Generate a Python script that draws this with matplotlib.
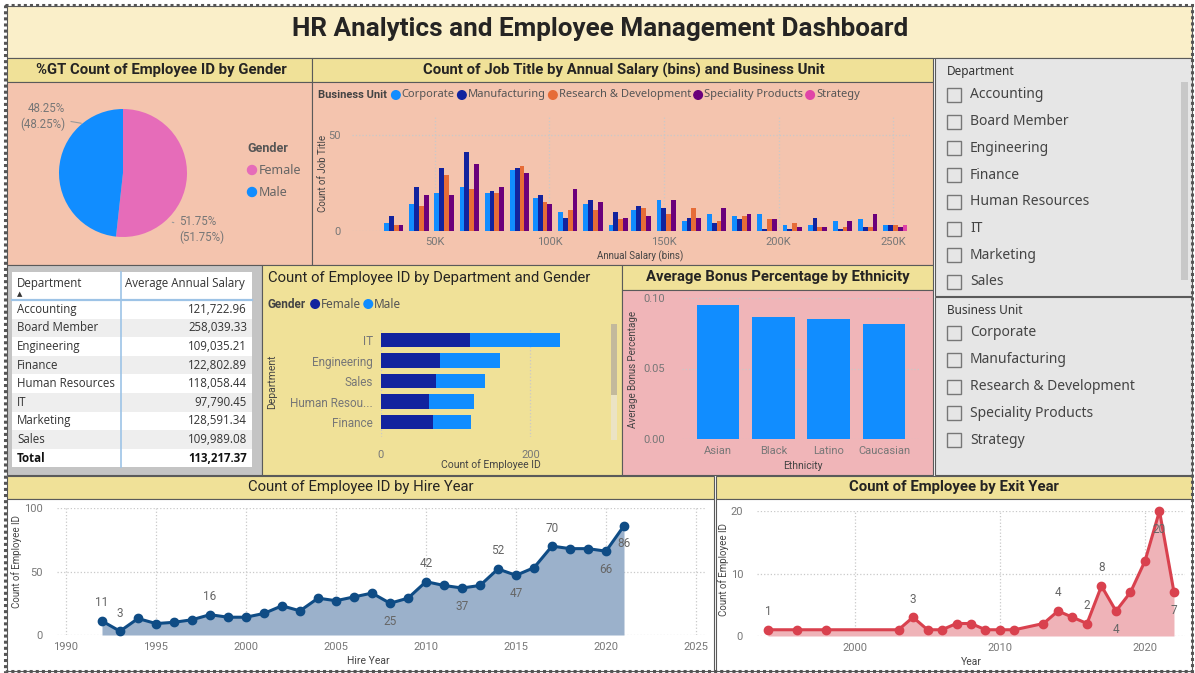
import matplotlib
matplotlib.use('Agg')
import matplotlib.pyplot as plt
from matplotlib.patches import Rectangle, Circle
from matplotlib.ticker import FuncFormatter

W, H = 1195, 673
DIN = ['Roboto', 'DejaVu Sans']
SEG = ['Noto Sans', 'DejaVu Sans']
TBL = ['Open Sans', 'DejaVu Sans']

# ---- data ----
genders = ['Female', 'Male']
gender_pct = [51.75, 48.25]

business_units = ['Corporate', 'Manufacturing', 'Research & Development',
                  'Speciality Products', 'Strategy']
salary_bins_k = [32, 43, 54, 65, 76, 87, 97, 108, 119, 130, 140,
                 151, 162, 173, 184, 195, 206, 217, 228, 239, 250]
corporate = [4, 14, 20, 23, 20, 32, 17, 10, 14, 3, 11, 16, 5, 9, 8, 9, 3, 3, 5, 6, 3]
manufacturing = [8, 23, 33, 41, 21, 33, 19, 7, 16, 10, 13, 12, 7, 4, 6, 1, 1, 7, 1, 2, 3]
research_dev = [3, 13, 29, 22, 20, 34, 15, 11, 11, 6, 12, 9, 12, 5, 8, 6, 4, 2, 2, 2, 3]
speciality = [3, 19, 19, 35, 23, 30, 14, 22, 15, 7, 8, 16, 7, 12, 9, 6, 2, 2, 5, 9, 2]
strategy = [0, 0, 0, 0, 0, 0, 0, 0, 0, 0, 0, 0, 0, 0, 0, 0, 0, 0, 0, 0, 3]

table_depts = ['Accounting', 'Board Member', 'Engineering', 'Finance',
               'Human Resources', 'IT', 'Marketing', 'Sales']
table_salary = [121722.96, 258039.33, 109035.21, 122802.89,
                118058.44, 97790.45, 128591.34, 109989.08]
table_total = 113217.37

bar_depts = ['IT', 'Engineering', 'Sales', 'Human Resou...', 'Finance']
female_cnt = [119, 79, 74, 64, 69]
male_cnt = [121, 80, 65, 61, 51]

ethnicities = ['Asian', 'Black', 'Latino', 'Caucasian']
bonus_pct = [0.0953, 0.0865, 0.0853, 0.0818]

hire_years = [1992, 1993, 1994, 1995, 1996, 1997, 1998, 1999, 2000, 2001,
              2002, 2003, 2004, 2005, 2006, 2007, 2008, 2009, 2010, 2011,
              2012, 2013, 2014, 2015, 2016, 2017, 2018, 2019, 2020, 2021]
hire_counts = [11, 3, 13, 9, 10, 12, 16, 14, 14, 17,
               23, 19, 29, 27, 30, 33, 25, 29, 42, 39,
               37, 39, 52, 47, 53, 70, 68, 68, 66, 86]
hire_label_years = [1992, 1993, 1998, 2008, 2010, 2012, 2014, 2015, 2017, 2020, 2021]
hire_label_up = [True, True, True, False, True, False, True, False, True, False, False]

exit_years = [1994, 1996, 1998, 2003, 2004, 2005, 2006, 2007, 2008, 2009, 2010,
              2011, 2013, 2014, 2015, 2016, 2017, 2018, 2019, 2020, 2021, 2022]
exit_counts = [1, 1, 1, 1, 3, 1, 1, 2, 2, 1, 1,
               1, 2, 4, 3, 2, 8, 4, 7, 12, 20, 7]
exit_label_years = [1994, 2004, 2014, 2016, 2017, 2018, 2021, 2022]
exit_label_up = [True, True, True, True, True, False, False, False]

slicer_depts = table_depts
slicer_units = business_units

# ---- colours ----
YELLOW = '#F0E198'
SALMON = '#F4C4AE'
PINK = '#F0B5B8'
CREAM = '#FAEFC9'
SLICER = '#E6E6E6'
EDGE = '#5A5A5A'
GREY_TXT = '#777777'
unit_colors = ['#118DFF', '#12239E', '#E66C37', '#6B007B', '#E044A7']
pie_colors = ['#E66CB9', '#118DFF']

fig = plt.figure(figsize=(W / 100, H / 100), dpi=100)
fig.patch.set_facecolor('white')

bg = fig.add_axes([0, 0, 1, 1])
bg.set_xlim(0, W)
bg.set_ylim(H, 0)
bg.axis('off')
renderer = fig.canvas.get_renderer()


def px_axes(x0, y0, x1, y1):
    ax = fig.add_axes([x0 / W, 1 - y1 / H, (x1 - x0) / W, (y1 - y0) / H])
    ax.set_facecolor('none')
    for s in ax.spines.values():
        s.set_visible(False)
    ax.tick_params(length=0, labelsize=8, colors=GREY_TXT)
    for lab in ax.get_xticklabels() + ax.get_yticklabels():
        lab.set_family(DIN)
    return ax


def box(x0, y0, x1, y1, fc, ec=EDGE, lw=0.8):
    bg.add_patch(Rectangle((x0, y0), x1 - x0, y1 - y0, fc=fc, ec=ec, lw=lw))


def txt(x, y, s, size=8, color='#444444', family=DIN, **kw):
    kw.setdefault('va', 'center')
    return bg.text(x, y, s, fontsize=size, color=color, family=family, **kw)


def inline_legend(x, y, title, names, colors, size, name_size):
    t = txt(x, y, title, size, '#444444', fontweight='bold')
    x += t.get_window_extent(renderer).width + 5
    for name, c in zip(names, colors):
        bg.add_patch(Circle((x + 4, y), 4.3, color=c))
        t = txt(x + 10, y, name, name_size, '#555555', family=SEG)
        x += 10 + t.get_window_extent(renderer).width + 3


def dotted_grid(ax, axis='both'):
    ax.grid(True, axis=axis, ls=':', color='#C9C9C9', lw=0.9)
    ax.set_axisbelow(True)


# ---- panels ----
box(7, 6, 1192, 58, CREAM)
txt(600, 29, 'HR Analytics and Employee Management Dashboard', 18.8, '#252423',
    ha='center', fontweight='bold')

box(7, 58, 312, 82, YELLOW)
box(7, 82, 312, 265, SALMON)
txt(161, 70, '%GT Count of Employee ID by Gender', 10.7, '#252423', ha='center', fontweight='bold')

box(312, 58, 933, 82, YELLOW)
box(312, 82, 933, 265, SALMON)
txt(624, 70, 'Count of Job Title by Annual Salary (bins) and Business Unit', 10.7, '#252423',
    ha='center', fontweight='bold')

box(935, 58, 1192, 296, SLICER)
box(935, 297, 1192, 475, SLICER)

box(7, 265, 262, 475, '#C4C4C4')
box(12, 272, 252, 467, 'white', ec='none')

box(262, 265, 622, 475, YELLOW)
txt(268, 278, 'Count of Employee ID by Department and Gender', 10.7, '#252423')

box(622, 265, 933, 290, YELLOW)
box(622, 290, 933, 475, PINK)
txt(778, 277, 'Average Bonus Percentage by Ethnicity', 10.7, '#252423', ha='center', fontweight='bold')

box(7, 476, 714, 499, YELLOW)
box(7, 499, 714, 671, 'white')
txt(361, 487, 'Count of Employee ID by Hire Year', 10.7, '#252423', ha='center')

box(716, 476, 1192, 499, YELLOW)
box(716, 499, 1192, 671, 'white')
txt(954, 487, 'Count of Employee by Exit Year', 10.7, '#252423', ha='center', fontweight='bold')

bg.add_patch(Rectangle((5, 5), 1187, 666, fc='none', ec='#555555', lw=2.2, ls=(0, (1, 1))))

# ---- pie ----
pie_ax = px_axes(59, 109, 187, 237)
pie_ax.pie(gender_pct, colors=pie_colors, startangle=90, counterclock=False, radius=1,
           wedgeprops=dict(linewidth=0))
pie_ax.set_xlim(-1, 1)
pie_ax.set_ylim(-1, 1)
pie_ax.annotate(f'{gender_pct[1]:.2f}%\n({gender_pct[1]:.2f}%)', xy=(-0.61, 0.77), xytext=(-0.9, 0.88),
                textcoords='data', ha='right', va='center', fontsize=8.3, color=GREY_TXT,
                family=DIN, annotation_clip=False, linespacing=1.3,
                arrowprops=dict(arrowstyle='-', color='#999999', lw=0.8))
pie_ax.annotate(f'{gender_pct[0]:.2f}%\n({gender_pct[0]:.2f}%)', xy=(0.77, -0.77), xytext=(0.88, -0.88),
                textcoords='data', ha='left', va='center', fontsize=8.3, color=GREY_TXT,
                family=DIN, annotation_clip=False, linespacing=1.3,
                arrowprops=dict(arrowstyle='-', color='#999999', lw=0.8))
txt(247, 148, 'Gender', 9, '#555555', fontweight='bold')
for i, (g, c) in enumerate(zip(genders, pie_colors)):
    yy = 170 + 22 * i
    bg.add_patch(Circle((252, yy), 4.5, color=c))
    txt(259, yy, g, 9, '#666666', family=SEG)

# ---- job title by salary bins ----
job_ax = px_axes(352, 116, 910, 231)
series = [corporate, manufacturing, research_dev, speciality, strategy]
bw = 2.1
for k, (vals, c) in enumerate(zip(series, unit_colors)):
    xs = [b + (k - 1.5) * bw for b in salary_bins_k]
    job_ax.bar(xs, vals, width=bw, color=c, linewidth=0)
job_ax.set_xlim(13.8, 257.4)
job_ax.set_ylim(0, 59.9)
job_ax.set_xticks([50, 100, 150, 200, 250])
job_ax.xaxis.set_major_formatter(FuncFormatter(lambda v, p: f'{int(v)}K'))
job_ax.set_yticks([0, 50])
job_ax.tick_params(axis='y', pad=8)
job_ax.tick_params(axis='x', pad=4)
dotted_grid(job_ax)
inline_legend(318, 95, 'Business Unit', business_units, unit_colors, 8, 8)
txt(323, 173, 'Count of Job Title', 7, '#444444', rotation=90, ha='center')
txt(640, 256, 'Annual Salary (bins)', 7, '#444444', ha='center')

# ---- table ----
row_h = 18.6
txt(17, 283, 'Department', 8.3, '#333333', family=TBL)
txt(20, 294, '\u25B2', 5, '#333333', family=['DejaVu Sans'], ha='center')
txt(125, 283, 'Average Annual Salary', 8.3, '#333333', family=TBL)
for i, (d, v) in enumerate(zip(table_depts, table_salary)):
    y0 = 300 + i * row_h
    box(12, y0, 252, y0 + row_h, 'white' if i % 2 == 0 else '#EEEEEE', ec='none')
    txt(17, y0 + row_h / 2, d, 8.3, '#333333', family=TBL)
    txt(247, y0 + row_h / 2, f'{v:,.2f}', 8.3, '#333333', family=TBL, ha='right')
ty = 300 + len(table_depts) * row_h
txt(17, ty + row_h / 2, 'Total', 8.3, '#111111', family=TBL, fontweight='bold')
txt(247, ty + row_h / 2, f'{table_total:,.2f}', 8.3, '#111111', family=TBL, fontweight='bold', ha='right')
bg.plot([121, 121], [272, 467], color='#9DC3E6', lw=1.2)
bg.plot([12, 252], [300, 300], color='#9DC3E6', lw=1.6)

# ---- department by gender ----
dep_ax = px_axes(381, 328, 605, 437)
ypos = list(range(len(bar_depts)))
dep_ax.barh(ypos, female_cnt, height=0.72, color='#12239E', linewidth=0)
dep_ax.barh(ypos, male_cnt, left=female_cnt, height=0.72, color='#118DFF', linewidth=0)
dep_ax.set_yticks(ypos)
dep_ax.set_yticklabels(bar_depts, family=DIN, fontsize=8.5)
dep_ax.set_ylim(4.73, -0.585)
dep_ax.set_xlim(0, 300)
dep_ax.set_xticks([0, 200])
dep_ax.tick_params(axis='y', pad=6)
dep_ax.tick_params(axis='x', pad=9)
dotted_grid(dep_ax, 'x')
inline_legend(268, 304, 'Gender', ['Female', 'Male'], ['#12239E', '#118DFF'], 8.5, 8.5)
txt(272, 382, 'Department', 7.5, '#444444', rotation=90, ha='center')
txt(491, 465, 'Count of Employee ID', 7.5, '#444444', ha='center')
box(611, 324, 617, 440, '#EBE3C4', ec='none')
box(611, 324, 617, 395, '#C3B99C', ec='none')

# ---- ethnicity bonus ----
eth_ax = px_axes(682, 298, 920, 439)
epos = list(range(len(ethnicities)))
eth_ax.bar(epos, bonus_pct, width=0.77, color='#118DFF', linewidth=0)
eth_ax.set_xticks(epos)
eth_ax.set_xticklabels(ethnicities, family=DIN, fontsize=8)
eth_ax.set_xlim(-0.65, 3.65)
eth_ax.set_ylim(0, 0.1)
eth_ax.set_yticks([0, 0.05, 0.10])
eth_ax.yaxis.set_major_formatter(FuncFormatter(lambda v, p: f'{v:.2f}'))
eth_ax.tick_params(axis='y', pad=12)
eth_ax.tick_params(axis='x', pad=5)
dotted_grid(eth_ax, 'y')
txt(633, 369, 'Average Bonus Percentage', 7, '#444444', rotation=90, ha='center')
txt(803, 466, 'Ethnicity', 7.5, '#444444', ha='center')

# ---- hire year ----
hire_ax = px_axes(57, 508, 705, 635)
hire_ax.fill_between(hire_years, hire_counts, color='#9BB1CB', linewidth=0)
hire_ax.plot(hire_years, hire_counts, color='#0F4C85', lw=2.2, marker='o', ms=6, clip_on=False)
hire_ax.set_xlim(1989.5, 2025.5)
hire_ax.set_ylim(0, 100)
hire_ax.set_xticks([1990, 1995, 2000, 2005, 2010, 2015, 2020, 2025])
hire_ax.set_yticks([0, 50, 100])
hire_ax.tick_params(axis='y', pad=10)
hire_ax.tick_params(axis='x', pad=5)
dotted_grid(hire_ax)
for yr, up in zip(hire_label_years, hire_label_up):
    v = hire_counts[hire_years.index(yr)]
    hire_ax.annotate(str(v), (yr, v), xytext=(0, 13 if up else -13), textcoords='offset points',
                     ha='center', va='center', fontsize=8.5, color='#666666', family=DIN)
txt(17, 562, 'Count of Employee ID', 7, '#444444', rotation=90, ha='center')
txt(368, 661, 'Hire Year', 7.5, '#444444', ha='center')

# ---- exit year ----
exit_ax = px_axes(757, 511, 1185, 636)
exit_ax.fill_between(exit_years, exit_counts, color='#EFB3B8', linewidth=0)
exit_ax.plot(exit_years, exit_counts, color='#D9414E', lw=2.2, marker='o', ms=6, clip_on=False)
exit_ax.set_xlim(1993.24, 2022.76)
exit_ax.set_ylim(0, 20)
exit_ax.set_xticks([2000, 2010, 2020])
exit_ax.set_yticks([0, 10, 20])
exit_ax.tick_params(axis='y', pad=10)
exit_ax.tick_params(axis='x', pad=5)
dotted_grid(exit_ax)
for yr, up in zip(exit_label_years, exit_label_up):
    v = exit_counts[exit_years.index(yr)]
    exit_ax.annotate(str(v), (yr, v), xytext=(0, 13 if up else -13), textcoords='offset points',
                     ha='center', va='center', fontsize=8.5, color='#666666', family=DIN)
txt(724, 570, 'Count of Employee ID', 7, '#444444', rotation=90, ha='center')
txt(971, 662, 'Year', 7.5, '#444444', ha='center')

# ---- slicers ----
def slicer(x, y_head, y_first, step, title, items):
    txt(x, y_head, title, 8.5, '#333333', family=SEG)
    for i, name in enumerate(items):
        yy = y_first + i * step
        bg.add_patch(Rectangle((x, yy - 7), 14, 14, fc='none', ec='#777777', lw=1))
        txt(x + 23, yy, name, 10, '#444444', family=SEG)


slicer(947, 72, 95, 26.7, 'Department', slicer_depts)
box(1181, 82, 1188, 280, '#C8C8C8', ec='none')
slicer(947, 310, 333, 26.75, 'Business Unit', slicer_units)

fig.savefig('out.png', dpi=100)
